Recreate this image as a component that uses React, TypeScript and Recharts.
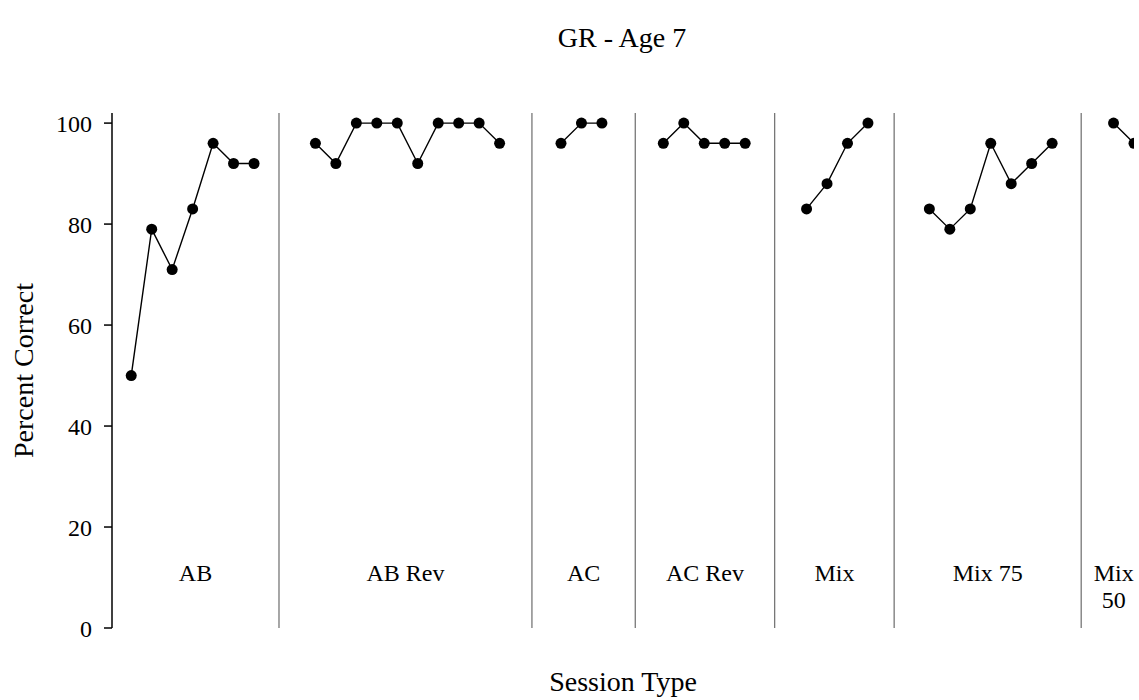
import {
  Label,
  Line,
  LineChart,
  ReferenceArea,
  ReferenceLine,
  XAxis,
  YAxis,
} from "recharts";

const FONT = '"Liberation Serif", "Times New Roman", serif';

// percent correct per session, one list per phase
const phaseNames = ["AB", "AB Rev", "AC", "AC Rev", "Mix", "Mix 75", "Mix 50"];
const abScores = [50, 79, 71, 83, 96, 92, 92];
const abRevScores = [96, 92, 100, 100, 100, 92, 100, 100, 100, 96];
const acScores = [96, 100, 100];
const acRevScores = [96, 100, 96, 96, 96];
const mixScores = [83, 88, 96, 100];
const mix75Scores = [83, 79, 83, 96, 88, 92, 96];
const mix50Scores = [100, 96];

// phase change lines, in session units
const phaseBreaks = [7.22, 19.58, 24.63, 31.44, 37.28, 46.42];
const sessionDomain = [-0.94, 49];
const yTicks = [0, 20, 40, 60, 80, 100];

// two blank sessions between phases so the lines break
const SESSION_GAP = 2;

type Row = { session: number; pct: number | null };

const phaseScores = [
  abScores,
  abRevScores,
  acScores,
  acRevScores,
  mixScores,
  mix75Scores,
  mix50Scores,
];

const rows: Row[] = [];
let sessionNo = 0;
phaseScores.forEach((scores, i) => {
  if (i > 0) {
    for (let g = 0; g < SESSION_GAP; g++) rows.push({ session: sessionNo++, pct: null });
  }
  scores.forEach((v) => rows.push({ session: sessionNo++, pct: v }));
});

const phaseEdges = [sessionDomain[0], ...phaseBreaks, 49.6];

function PhaseLabel(props: any) {
  const { viewBox, name } = props;
  if (!viewBox) return null;
  const cx = viewBox.x + viewBox.width / 2;
  // narrow last phase wraps onto two lines
  const lines = viewBox.width < 70 ? String(name).split(" ") : [String(name)];
  return (
    <text textAnchor="middle" fontSize={24} fontFamily={FONT} fill="#000">
      {lines.map((ln, i) => (
        <tspan key={i} x={cx} y={viewBox.y + 54 + i * 27}>
          {ln}
        </tspan>
      ))}
    </text>
  );
}

function YTitle(props: any) {
  const vb = props.viewBox;
  if (!vb) return null;
  const cy = vb.y + vb.height / 2;
  return (
    <text
      x={33}
      y={cy}
      transform={`rotate(-90 33 ${cy})`}
      textAnchor="middle"
      fontSize={28}
      fontFamily={FONT}
      fill="#000"
    >
      Percent Correct
    </text>
  );
}

const textBox = {
  position: "absolute" as const,
  textAlign: "center" as const,
  fontSize: 28,
  lineHeight: 1,
  color: "#000",
};

export default function App() {
  return (
    <div
      style={{
        position: "absolute",
        left: 0,
        top: 0,
        width: 1139,
        height: 700,
        background: "#fff",
        fontFamily: FONT,
      }}
    >
      <div style={{ ...textBox, left: 0, width: 1244, top: 24 }}>GR - Age 7</div>
      <div style={{ ...textBox, left: 112, width: 1022, top: 668 }}>Session Type</div>
      <LineChart
        width={1139}
        height={700}
        data={rows}
        margin={{ top: 113, right: 5, bottom: 72, left: 0 }}
      >
        <XAxis
          dataKey="session"
          type="number"
          domain={sessionDomain}
          allowDataOverflow
          height={0}
          tick={false}
          tickLine={false}
          axisLine={{ stroke: "#000", strokeWidth: 1.5 }}
        />
        <YAxis
          type="number"
          domain={[0, 102]}
          ticks={yTicks}
          width={112}
          tickSize={8}
          tickMargin={12}
          tick={{ fontSize: 24, fill: "#000", fontFamily: FONT }}
          tickLine={{ stroke: "#000", strokeWidth: 1.5 }}
          axisLine={{ stroke: "#000", strokeWidth: 1.5 }}
        >
          <Label content={YTitle} />
        </YAxis>
        {phaseNames.map((name, i) => (
          <ReferenceArea
            key={name}
            x1={phaseEdges[i]}
            x2={phaseEdges[i + 1]}
            y1={0}
            y2={20}
            fill="none"
            fillOpacity={0}
            stroke="none"
            ifOverflow="visible"
            label={(p: any) => <PhaseLabel {...p} name={name} />}
          />
        ))}
        {phaseBreaks.map((b) => (
          <ReferenceLine key={b} x={b} stroke="#777" strokeWidth={1.3} />
        ))}
        <Line
          dataKey="pct"
          stroke="#000"
          strokeWidth={1.4}
          connectNulls={false}
          dot={{ r: 5.5, fill: "#000", stroke: "#000", strokeWidth: 0 }}
          activeDot={false}
          isAnimationActive={false}
        />
      </LineChart>
    </div>
  );
}
